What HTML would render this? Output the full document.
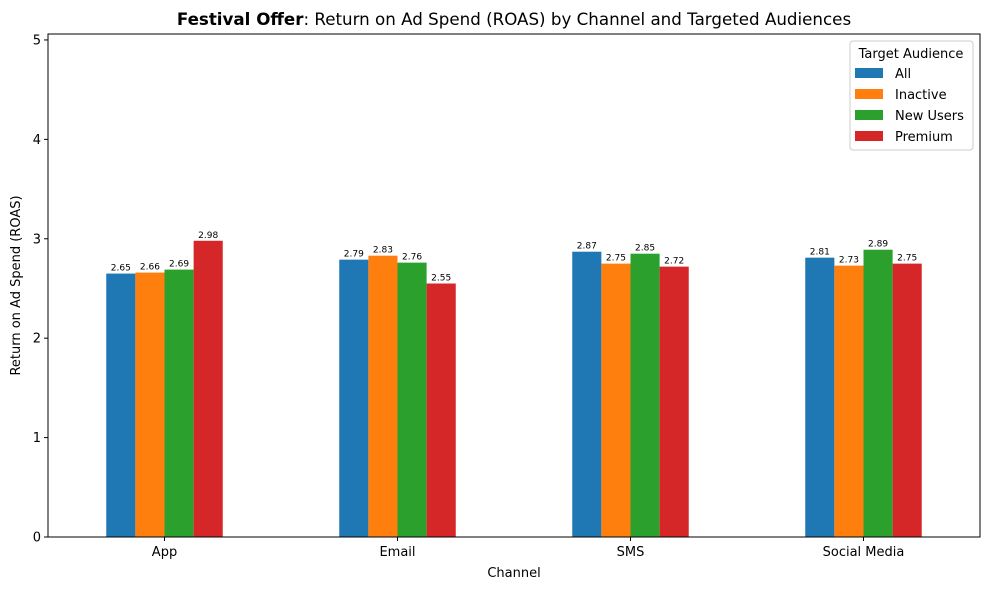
<!DOCTYPE html>
<html><head><meta charset="utf-8"><style>
body{margin:0;background:#fff;font-family:"Liberation Sans","DejaVu Sans",sans-serif;}
svg text{font-family:"DejaVu Sans","Liberation Sans",sans-serif;}
</style></head><body>
<svg id="chart" width="989" height="590" xmlns="http://www.w3.org/2000/svg"></svg>
<script>
const categories = ["App","Email","SMS","Social Media"];
const seriesNames = ["All","Inactive","New Users","Premium"];
const seriesAll = [2.65,2.79,2.87,2.81];
const seriesInactive = [2.66,2.83,2.75,2.73];
const seriesNewUsers = [2.69,2.76,2.85,2.89];
const seriesPremium = [2.98,2.55,2.72,2.75];
const yTicks = [0,1,2,3,4,5];
const colors = ["#1f77b4","#ff7f0e","#2ca02c","#d62728"];
const series = [seriesAll,seriesInactive,seriesNewUsers,seriesPremium];

const svg = document.getElementById('chart');
const NS = "http://www.w3.org/2000/svg";
const L=48,R=980,T=34,B=537, yMax=5.06;
const xS = v => L + (v+0.5)/4*(R-L);
const yS = v => B - v/yMax*(B-T);
function mk(tag, attrs, parent){const e=document.createElementNS(NS,tag);for(const k in attrs)e.setAttribute(k,attrs[k]);(parent||svg).appendChild(e);return e;}

const bw = 0.125;
series.forEach((s,si)=>{
  s.forEach((v,ci)=>{
    const x0 = xS(ci - 0.25 + si*bw), x1 = xS(ci - 0.25 + (si+1)*bw);
    const r = mk('rect',{x:x0,y:yS(v),width:x1-x0,height:B-yS(v),fill:colors[si]});
    
    
    const t = mk('text',{x:(x0+x1)/2,y:yS(v)-3,'text-anchor':'middle','font-size':'9'});
    t.textContent = v.toFixed(2);
    
    
  });
});

const frame = mk('rect',{x:L,y:T,width:R-L,height:B-T,fill:'none',stroke:'#000','stroke-width':1});



yTicks.forEach(v=>{
  mk('line',{x1:L-4,x2:L,y1:yS(v),y2:yS(v),stroke:'#000'});
  const t=mk('text',{x:L-7,y:yS(v)+4.5,'text-anchor':'end','font-size':'13'});
  t.textContent=v;
  
  
});
categories.forEach((c,i)=>{
  mk('line',{x1:xS(i),x2:xS(i),y1:B,y2:B+4,stroke:'#000'});
  const t=mk('text',{x:xS(i),y:B+19,'text-anchor':'middle','font-size':'13'});
  t.textContent=c;
  
  
});

const xt=mk('text',{x:(L+R)/2,y:577,'text-anchor':'middle','font-size':'13'});
xt.textContent='Channel';


const yt=mk('text',{x:20,y:(T+B)/2,'text-anchor':'middle','font-size':'13',transform:`rotate(-90 20 ${(T+B)/2})`});
yt.textContent='Return on Ad Spend (ROAS)';



const title=mk('text',{x:(L+R)/2,y:25,'text-anchor':'middle','font-size':'16.7'});
title.innerHTML='<tspan font-weight="bold">Festival Offer</tspan>: Return on Ad Spend (ROAS) by Channel and Targeted Audiences';



const lg=mk('g',{});


mk('rect',{x:850,y:41,width:123,height:109,rx:3,fill:'#fff',stroke:'#ccc'},lg);
const lt=mk('text',{x:911,y:58,'text-anchor':'middle','font-size':'13'},lg);
lt.textContent='Target Audience';
seriesNames.forEach((n,i)=>{
  const y=73+i*21;
  const g=mk('g',{},lg);
  
  
  mk('rect',{x:855,y:y-5,width:28,height:10,fill:colors[i]},g);
  const t=mk('text',{x:895,y:y+5,'font-size':'13'},g);
  t.textContent=n;
});
</script>
</body></html>
